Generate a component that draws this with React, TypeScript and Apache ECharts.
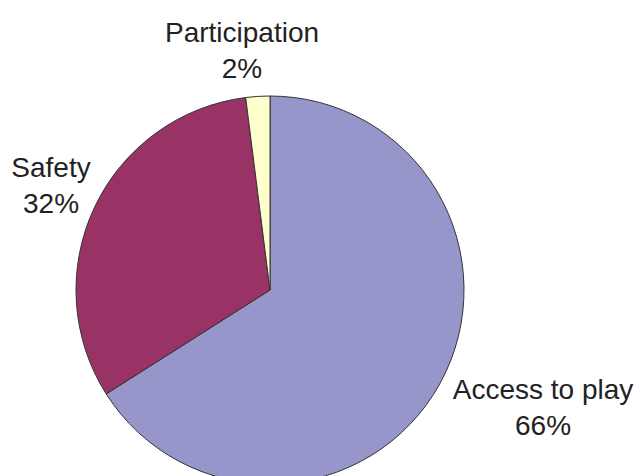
import React, { useEffect, useRef } from "react";
import * as echarts from "echarts";

const categories = ["Access to play", "Safety", "Participation"];
const values = [66, 32, 2];
const colors = ["#9696CA", "#993366", "#FFFFCC"];
const labelPos: [number, number][] = [
  [543, 407],
  [51, 185],
  [242, 50],
];

export default function App() {
  const ref = useRef<HTMLDivElement>(null);
  useEffect(() => {
    if (!ref.current) return;
    const chart = echarts.init(ref.current, undefined, { renderer: "svg" });
    chart.setOption({
      animation: false,
      backgroundColor: "#ffffff",
      series: [
        {
          type: "pie",
          center: [270, 290],
          radius: 194,
          startAngle: 90,
          clockwise: true,
          label: { show: false },
          labelLine: { show: false },
          emphasis: { disabled: true },
          itemStyle: { borderColor: "#333333", borderWidth: 1 },
          data: categories.map((name, i) => ({
            name,
            value: values[i],
            itemStyle: { color: colors[i] },
          })),
        },
      ],
      graphic: categories.map((name, i) => ({
        type: "text",
        x: labelPos[i][0],
        y: labelPos[i][1],
        style: {
          text: `${name}\n${values[i]}%`,
          fontFamily: "Liberation Sans, Arial, sans-serif",
          fontSize: 28,
          lineHeight: 36,
          fill: "#222222",
          align: "center",
          verticalAlign: "middle",
        },
      })),
    });
    return () => chart.dispose();
  }, []);
  return (
    <div
      ref={ref}
      style={{ position: "fixed", left: 0, top: 0, width: 640, height: 476 }}
    />
  );
}
